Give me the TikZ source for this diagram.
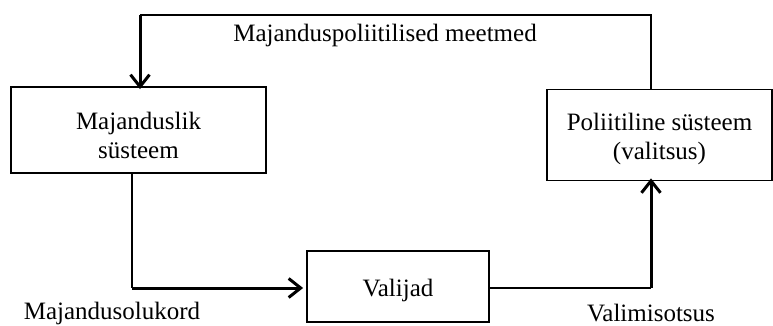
\documentclass[tikz,border=0pt]{standalone}
\usepackage{fontspec}
\setmainfont{Liberation Serif}
\usetikzlibrary{arrows.meta}
\begin{document}
\begin{tikzpicture}[x=1pt,y=-1pt,
  boxnode/.style={draw,line width=1.8pt,inner sep=0pt},
  txt/.style={align=center,inner sep=0pt,font=\fontsize{25}{29}\selectfont},
  lbl/.style={font=\fontsize{25}{29}\selectfont,inner sep=0pt},
  thin/.style={line width=1.3pt},
  thick/.style={line width=3pt},
  tip/.style={-{Straight Barb[length=12pt,width=19pt,line width=3pt]}}]
\useasboundingbox (0,0) rectangle (773,326);
\node[boxnode,minimum width=255pt,minimum height=86pt] (econ) at (138.5,130) {};
\node[txt] (econtxt) at ([yshift=-5.5pt]econ.center) {Majanduslik\\süsteem};
\node[boxnode,minimum width=225pt,minimum height=91pt] (pol) at (659.5,135) {};
\node[txt] (poltxt) at ([yshift=-4pt]pol.center) {Poliitiline süsteem\\(valitsus)};
\node[boxnode,minimum width=182pt,minimum height=71pt] (val) at (398,286.5) {};
\node[txt] (valtxt) at ([yshift=-4pt]val.center) {Valijad};
\coordinate (tl) at (140,15);
\coordinate (tr) at (651,15);
\coordinate (bl) at (132,288);
\coordinate (br) at (651,288);
\draw[thin] (pol.north -| tr) -- (tr) -- (tl);
\draw[thick,tip] (tl) -- ([yshift=-3pt]econ.north -| tl);
\draw[thin] (econ.south -| bl) -- (bl);
\draw[thick,tip] (bl) -- ([xshift=-3pt]val.west |- bl);
\draw[thin] (val.east |- br) -- (br);
\draw[thick,tip] (br) -- ([yshift=3pt]pol.south -| br);
\node[lbl] (t1) at (385,35) {Majanduspoliitilised meetmed};
\node[lbl] (t2) at (112,313) {Majandusolukord};
\node[lbl] (t3) at (651,313) {Valimisotsus};
\end{tikzpicture}
\end{document}
